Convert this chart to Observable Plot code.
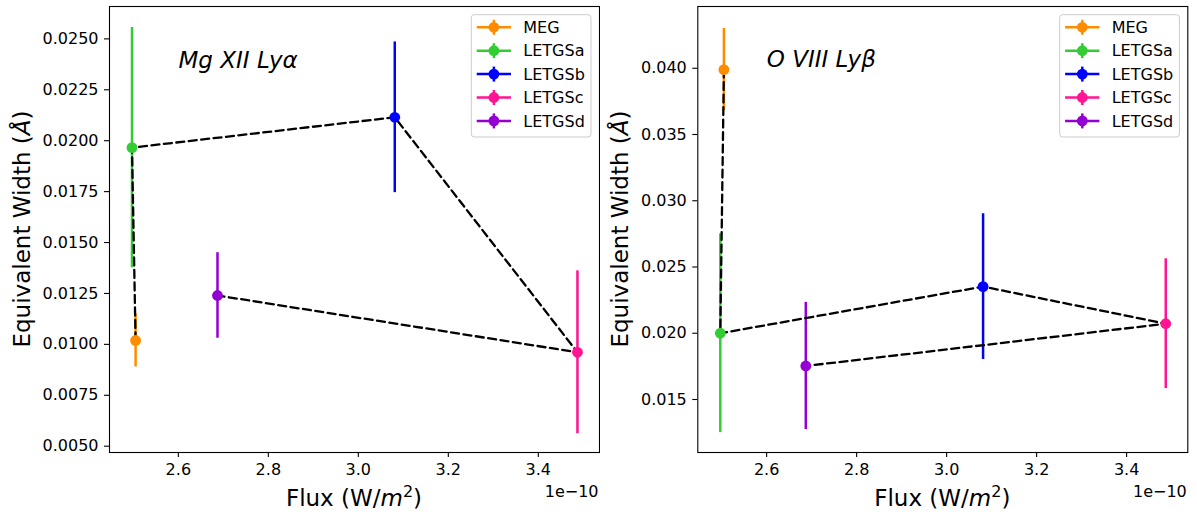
<!DOCTYPE html>
<html><head><meta charset="utf-8">
<script src="https://cdn.jsdelivr.net/npm/d3@7"></script>
<script src="https://cdn.jsdelivr.net/npm/@observablehq/plot@0.6"></script>
<style>
body{margin:0;background:#fff;}
#wrap{display:flex;width:1197px;height:514px;background:#fff;}
svg{display:block}
</style>
</head><body><div id="wrap"></div>
<script>
// ---- data ----
const labels = ["MEG", "LETGSa", "LETGSb", "LETGSc", "LETGSd"];
const colors = ["#ff8c00", "#32cd32", "#0000ff", "#ff1493", "#9400d3"];
const flux = [2.505, 2.497, 3.081, 3.487, 2.687];          // ×1e-10 W/m²
const mgEW  = [0.01019, 0.01966, 0.02115, 0.00961, 0.01240];
const mgErr = [0.0013, 0.0059, 0.0037, 0.0040, 0.0021];
const oEW   = [0.0399, 0.0200, 0.02352, 0.02072, 0.01753];
const oErr  = [0.0031, 0.0075, 0.0055, 0.0049, 0.0048];
const xTicks = [2.6, 2.8, 3.0, 3.2, 3.4];
const mgTicks = [0.0050, 0.0075, 0.0100, 0.0125, 0.0150, 0.0175, 0.0200, 0.0225, 0.0250];
const oTicks = [0.015, 0.020, 0.025, 0.030, 0.035, 0.040];
const titles = ["Mg XII Lyα", "O VIII Lyβ"];
const xDomain = [2.447, 3.536];

const FONT = "'DejaVu Sans', sans-serif";

function panel({width, marginLeft, marginRight, ew, err, yDomain, yTicks, yDec, title, titleDy, yLabelX, legendX}) {
  const data = labels.map((l, i) => ({label: l, color: colors[i], x: flux[i], y: ew[i], lo: ew[i] - err[i], hi: ew[i] + err[i]}));
  const H = 514, mt = 6, mb = 62;
  const svg = Plot.plot({
    width, height: H, marginLeft, marginRight, marginTop: mt, marginBottom: mb,
    style: {fontFamily: FONT, fontSize: "16px", color: "black", background: "white"},
    x: {domain: xDomain},
    y: {domain: yDomain},
    color: {type: "identity"},
    marks: [
      Plot.axisX({ticks: xTicks, tickFormat: d => d.toFixed(1), tickSize: 5, tickPadding: 6, label: null, fontSize: 16, strokeWidth: 1.1}),
      Plot.axisY({ticks: yTicks, tickFormat: d => d.toFixed(yDec), tickSize: 5, tickPadding: 6, label: null, fontSize: 16, strokeWidth: 1.1}),
      Plot.ruleX(data, {x: "x", y1: "lo", y2: "hi", stroke: "color", strokeWidth: 2.5}),
      Plot.line(data, {x: "x", y: "y", stroke: "black", strokeWidth: 2.3, strokeDasharray: "8,4.5"}),
      Plot.dot(data, {x: "x", y: "y", fill: "color", r: 5.4}),
      Plot.text([title], {frameAnchor: "top-left", dx: 69, dy: titleDy, text: d => d, textAnchor: "start", lineAnchor: "middle", fontSize: 23, fontStyle: "italic", fill: "black"}),
      Plot.frame({stroke: "black", strokeWidth: 1.1})
    ]
  });
  const s = d3.select(svg);
  const frameRight = width - marginRight;
  const cx = (marginLeft + frameRight) / 2;
  const cy = (mt + H - mb) / 2;
  // y label
  const yl = s.append("text").attr("transform", `translate(${yLabelX},${cy}) rotate(-90)`)
    .attr("text-anchor", "middle").attr("fill", "black").attr("style", `font: 23px ${FONT}`);
  yl.append("tspan").text("Equivalent Width (");
  yl.append("tspan").attr("font-style", "italic").text("Å");
  yl.append("tspan").text(")");
  // x label
  const xl = s.append("text").attr("x", cx).attr("y", 506).attr("text-anchor", "middle")
    .attr("fill", "black").attr("style", `font: 23px ${FONT}`);
  xl.append("tspan").text("Flux (W/");
  xl.append("tspan").attr("font-style", "italic").text("m");
  xl.append("tspan").attr("dy", -9).attr("style", "font-size:16px").text("2");
  xl.append("tspan").attr("dy", 9).text(")");
  // offset text
  s.append("text").attr("x", frameRight - 0.5).attr("y", 497).attr("text-anchor", "end")
    .attr("fill", "black").attr("style", `font: 16px ${FONT}`).text("1e\u221210");
  // legend
  const g = s.append("g").attr("transform", `translate(${legendX},14.7)`);
  g.append("rect").attr("width", 119.7).attr("height", 122.3).attr("rx", 3)
    .attr("fill", "white").attr("fill-opacity", 0.8).attr("stroke", "#cccccc").attr("stroke-width", 1);
  labels.forEach((l, i) => {
    const y = 12.6 + i * 23.4;
    g.append("line").attr("x1", 5.4).attr("x2", 39.7).attr("y1", y).attr("y2", y).attr("stroke", colors[i]).attr("stroke-width", 2.5);
    g.append("line").attr("x1", 22.6).attr("x2", 22.6).attr("y1", y - 7.5).attr("y2", y + 7.5).attr("stroke", colors[i]).attr("stroke-width", 2.5);
    g.append("circle").attr("cx", 22.6).attr("cy", y).attr("r", 5.4).attr("fill", colors[i]);
    g.append("text").attr("x", 52).attr("y", y + 5.8).attr("text-anchor", "start")
      .attr("fill", "black").attr("style", `font: 16px ${FONT}`).text(l);
  });
  return svg;
}

const wrap = document.getElementById("wrap");
wrap.append(panel({width: 600, marginLeft: 109, marginRight: 1, ew: mgEW, err: mgErr,
  yDomain: [0.00469, 0.02659], yTicks: mgTicks, yDec: 4, title: titles[0], titleDy: 54, yLabelX: 30, legendX: 471.3}));
wrap.append(panel({width: 597, marginLeft: 97.3, marginRight: 9.7, ew: oEW, err: oErr,
  yDomain: [0.0110, 0.04466], yTicks: oTicks, yDec: 3, title: titles[1], titleDy: 53, yLabelX: 28.3, legendX: 459.7}));
</script>
</body></html>
